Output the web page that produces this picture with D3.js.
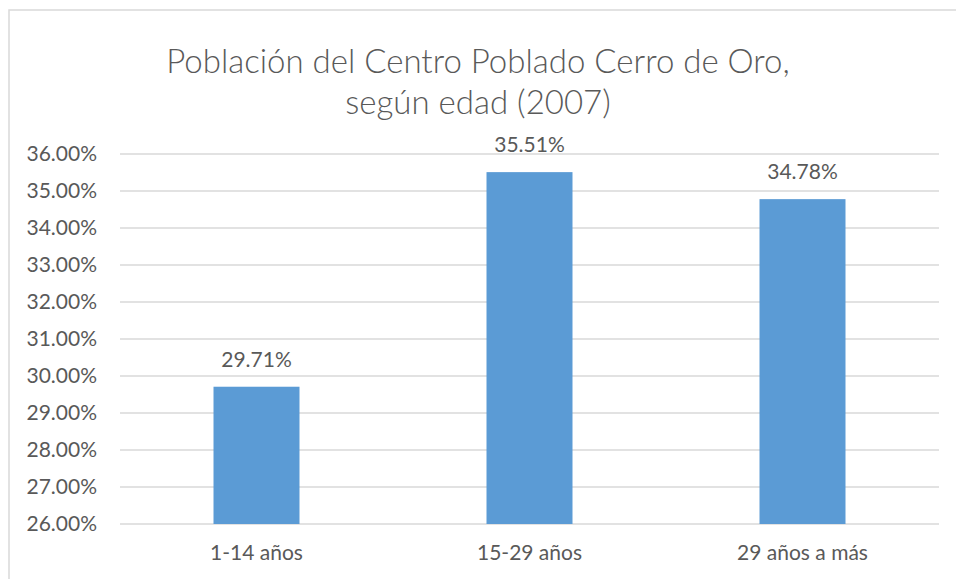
<!DOCTYPE html>
<html>
<head>
<meta charset="utf-8">
<script src="https://cdn.jsdelivr.net/npm/d3@7"></script>
<style>
  body { margin: 0; background: #fff; }
  text { font-family: Lato, "Open Sans", sans-serif; fill: #595959; }
</style>
</head>
<body>
<div id="chart"></div>
<script>
var categories = ["1-14 años", "15-29 años", "29 años a más"];
var values = [29.71, 35.51, 34.78];
var yTicks = [26, 27, 28, 29, 30, 31, 32, 33, 34, 35, 36];
var titleLines = ["Población del Centro Poblado Cerro de Oro,", "según edad (2007)"];

var width = 956, height = 579;
var margin = { top: 154, right: 17, bottom: 55, left: 120 };
var plotW = width - margin.left - margin.right,
    plotH = height - margin.top - margin.bottom;

var svg = d3.select("#chart").append("svg")
    .attr("width", width)
    .attr("height", height);

// chart frame
svg.append("rect")
    .attr("x", 9).attr("y", 10)
    .attr("width", 960).attr("height", 600)
    .attr("fill", "none")
    .attr("stroke", "#d9d9d9")
    .attr("stroke-width", 1.5);

var title = svg.append("text")
    .attr("text-anchor", "middle")
    .style("font-size", "33px")
    .style("font-weight", 300);
title.selectAll("tspan")
    .data(titleLines)
    .enter().append("tspan")
    .attr("x", 478)
    .attr("y", function (d, i) { return 73 + i * 41; })
    .text(function (d) { return d; });

var g = svg.append("g").attr("transform", "translate(" + margin.left + "," + margin.top + ")");

var x = d3.scaleBand().domain(categories).range([0, plotW]).paddingInner(0.685).paddingOuter(0.3425);
var y = d3.scaleLinear().domain([26, 36]).range([plotH, 0]);

// gridlines
g.append("g")
    .selectAll("line")
    .data(yTicks)
    .enter().append("line")
    .attr("x1", 0).attr("x2", plotW)
    .attr("y1", function (d) { return y(d); })
    .attr("y2", function (d) { return y(d); })
    .attr("stroke", "#d9d9d9")
    .attr("stroke-width", 1.5);

// y axis
var yAxis = g.append("g")
    .call(d3.axisLeft(y).tickValues(yTicks).tickSize(0).tickPadding(23)
        .tickFormat(function (d) { return d.toFixed(2) + "%"; }));
yAxis.select(".domain").remove();
yAxis.selectAll("text").style("font-size", "21px").attr("fill", "#595959");

// x axis
var xAxis = g.append("g")
    .attr("transform", "translate(0," + plotH + ")")
    .call(d3.axisBottom(x).tickSize(0).tickPadding(21));
xAxis.select(".domain").remove();
xAxis.selectAll("text").style("font-size", "21px").attr("fill", "#595959");

// bars
g.selectAll(".bar")
    .data(values)
    .enter().append("rect")
    .attr("class", "bar")
    .attr("x", function (d, i) { return x(categories[i]); })
    .attr("width", x.bandwidth())
    .attr("y", function (d) { return y(d); })
    .attr("height", function (d) { return plotH - y(d); })
    .attr("fill", "#5b9bd5");

// data labels
g.selectAll(".label")
    .data(values)
    .enter().append("text")
    .attr("class", "label")
    .attr("text-anchor", "middle")
    .attr("x", function (d, i) { return x(categories[i]) + x.bandwidth() / 2; })
    .attr("y", function (d) { return y(d) - 20; })
    .style("font-size", "21px")
    .text(function (d) { return d.toFixed(2) + "%"; });
</script>
</body>
</html>
